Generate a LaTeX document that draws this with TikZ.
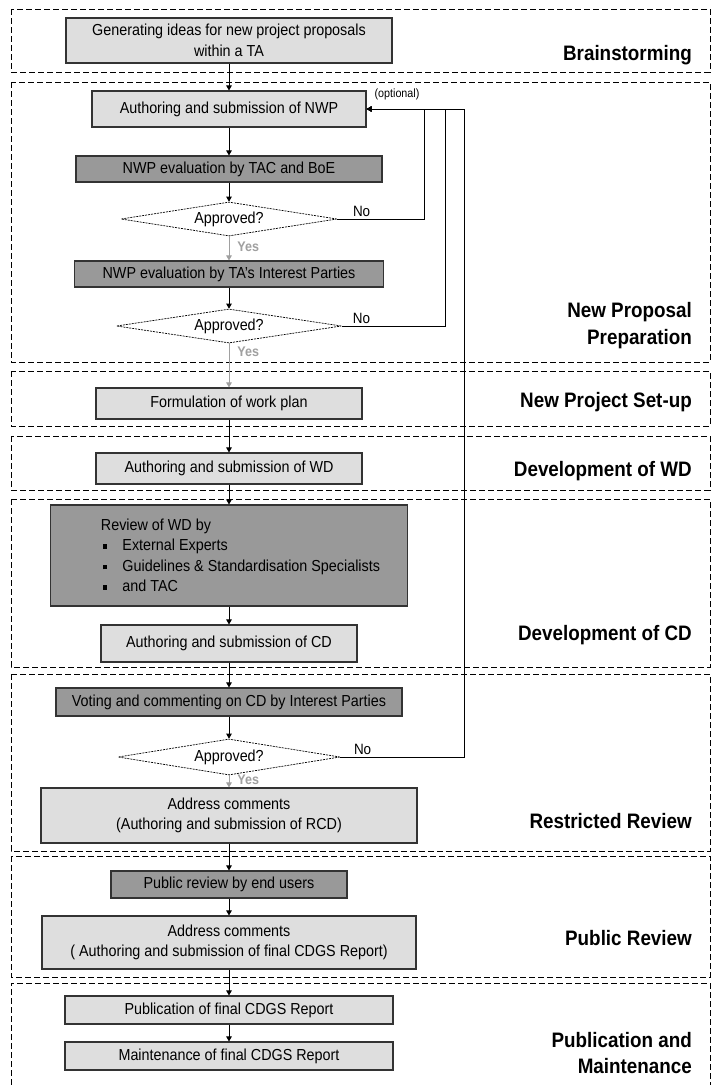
\documentclass[tikz,border=0pt]{standalone}
\usepackage{fontspec}
\setmainfont{Liberation Sans}[FakeStretch=0.9]
\usetikzlibrary{arrows.meta,shapes.geometric}
\definecolor{boxlight}{HTML}{DEDEDE}
\definecolor{boxdark}{HTML}{999999}
\definecolor{yesgray}{HTML}{A0A0A0}
\newcommand{\sqbul}{\rule[2bp]{4.5bp}{4.5bp}}

\begin{document}
\begin{tikzpicture}[x=1bp, y=-1bp,
  >={Triangle[length=5bp, width=5.5bp]},
  box/.style={draw=black!80, line width=1.1bp, fill=boxlight, align=center,
    font=\fontsize{16}{20.5}\selectfont, inner sep=0pt},
  darkbox/.style={box, fill=boxdark},
  decide/.style={diamond, draw, dash pattern=on 2bp off 1bp, line width=0.7bp,
    aspect=6, inner sep=0pt, fill=white, font=\fontsize{16}{20}\selectfont},
  phase/.style={draw, dash pattern=on 6bp off 3bp, line width=0.8bp},
  phaselab/.style={anchor=east, align=right, inner sep=0pt,
    font=\fontsize{21}{27}\selectfont\bfseries},
  nolab/.style={above, inner sep=2pt, font=\fontsize{15}{18}\selectfont},
  yeslab/.style={right, xshift=7bp, inner sep=1pt, text=yesgray,
    font=\fontsize{14}{16}\selectfont\bfseries},
  flow/.style={->, line width=0.9bp},
  yesflow/.style={flow, color=yesgray}
]
\useasboundingbox[fill=white] (0,0) rectangle (713,1085);
% the phase frames
\draw[phase] (11,9) rectangle (710,72);
\draw[phase] (11,82) rectangle (710,362);
\draw[phase] (11,371) rectangle (710,426);
\draw[phase] (11,436) rectangle (710,490);
\draw[phase] (11,499) rectangle (710,667);
\draw[phase] (11,674) rectangle (710,851);
\draw[phase] (11,856) rectangle (710,977);
\draw[phase] (11,1085) -- (11,983) -- (710,983) -- (710,1085);
\node[phaselab] (lbrain) at (692,55) {Brainstorming};
\node[phaselab] (lprop) at (692,326) {New Proposal\\Preparation};
\node[phaselab] (lsetup) at (692,402) {New Project Set-up};
\node[phaselab] (lwd) at (692,471) {Development of WD};
\node[phaselab] (lcd) at (692,635) {Development of CD};
\node[phaselab] (lrestr) at (692,821) {Restricted Review};
\node[phaselab] (lpublic) at (692,938) {Public Review};
\node[phaselab] (lmaint) at (692,1053) {Publication and\\Maintenance};
% the steps
\node[box, minimum width=326bp, minimum height=45bp] (ideas) at (229,40.5)
  {Generating ideas for new project proposals\\within a TA};
\node[box, minimum width=274bp, minimum height=36bp] (nwp) at (229,109)
  {Authoring and submission of NWP};
\node[darkbox, minimum width=306bp, minimum height=26bp] (tac) at (229,169)
  {NWP evaluation by TAC and BoE};
\node[decide, minimum width=216bp, minimum height=34bp] (ok1) at (229,219)
  {Approved?};
\node[darkbox, minimum width=309bp, minimum height=26bp] (party) at (229,274)
  {NWP evaluation by TA's Interest Parties};
\node[decide, minimum width=225bp, minimum height=34bp] (ok2) at (229,326)
  {Approved?};
\node[box, minimum width=266bp, minimum height=31bp] (plan) at (229,403.5)
  {Formulation of work plan};
\node[box, minimum width=266bp, minimum height=31bp] (wd) at (229,468.5)
  {Authoring and submission of WD};
\node[darkbox, minimum width=357bp, minimum height=101bp, align=left] (review)
  at (229,555.5)
  {\hspace*{23bp}Review of WD by\\
   \hspace*{25bp}\sqbul\hspace{15bp}External Experts\\
   \hspace*{25bp}\sqbul\hspace{15bp}Guidelines \& Standardisation Specialists\\
   \hspace*{25bp}\sqbul\hspace{15bp}and TAC};
\node[box, minimum width=256bp, minimum height=37bp] (cd) at (229,643.5)
  {Authoring and submission of CD};
\node[darkbox, minimum width=346bp, minimum height=28bp] (vote) at (229,702)
  {Voting and commenting on CD by Interest Parties};
\node[decide, minimum width=222bp, minimum height=36bp] (ok3) at (229,757)
  {Approved?};
\node[box, minimum width=376bp, minimum height=55bp] (rcd) at (229,815.5)
  {Address comments\\(Authoring and submission of RCD)};
\node[darkbox, minimum width=236bp, minimum height=27bp] (enduser) at (229,884.5)
  {Public review by end users};
\node[box, minimum width=374bp, minimum height=53bp] (final) at (229,942.5)
  {Address comments\\( Authoring and submission of final CDGS Report)};
\node[box, minimum width=328bp, minimum height=28bp] (publish) at (229,1010)
  {Publication of final CDGS Report};
\node[box, minimum width=328bp, minimum height=28bp] (maint) at (229,1056)
  {Maintenance of final CDGS Report};
% the main flow
\draw[flow] (ideas) -- (nwp);
\draw[flow] (nwp) -- (tac);
\draw[flow] (tac) -- (ok1);
\draw[yesflow] (ok1) -- node[yeslab, pos=0.45] (yes1) {Yes} (party);
\draw[flow] (party) -- (ok2);
\draw[yesflow] (ok2) -- node[yeslab, pos=0.2] (yes2) {Yes} (plan);
\draw[flow] (plan) -- (wd);
\draw[flow] (wd) -- (review);
\draw[flow] (review) -- (cd);
\draw[flow] (cd) -- (vote);
\draw[flow] (vote) -- (ok3);
\draw[yesflow] (ok3) -- node[yeslab, pos=0.4] (yes3) {Yes} (rcd);
\draw[flow] (rcd) -- (enduser);
\draw[flow] (enduser) -- (final);
\draw[flow] (final) -- (publish);
\draw[flow] (publish) -- (maint);
% the way back
\coordinate (backA) at (424,109);
\coordinate (backB) at (445,109);
\coordinate (backC) at (464,109);
\node[inner sep=0pt, font=\fontsize{12}{14}\selectfont] (opt) at (397,94) {(optional)};
\draw[flow] (ok1.east) -- node[nolab, pos=0.28] (no1) {No} (ok1.east -| backA)
  -- (backA) -- (nwp.east);
\draw[flow] (ok2.east) -- node[nolab, pos=0.19] (no2) {No} (ok2.east -| backB)
  -- (backB) -- (nwp.east);
\draw[flow] (ok3.east) -- node[nolab, pos=0.18] (no3) {No} (ok3.east -| backC)
  -- (backC) -- (nwp.east);
\end{tikzpicture}
\end{document}
